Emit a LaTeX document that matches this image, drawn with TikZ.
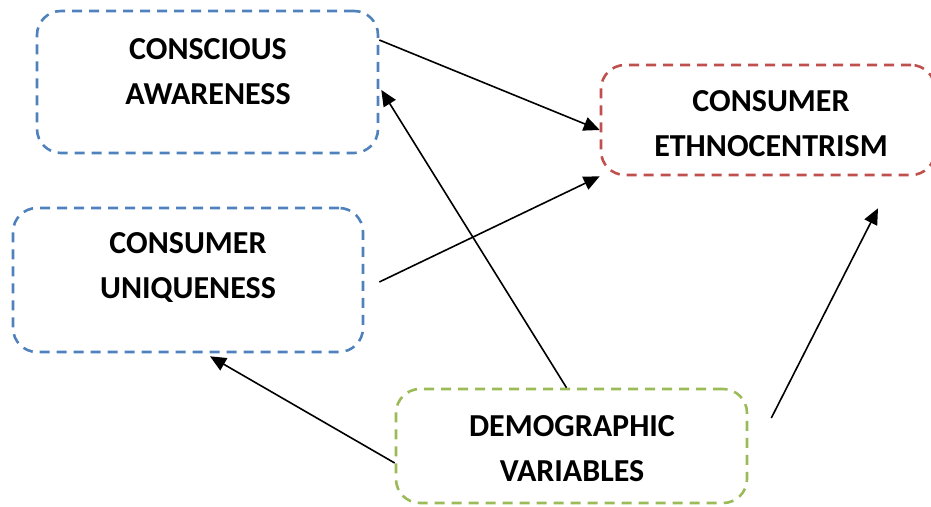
\documentclass[tikz,border=0pt]{standalone}
\usepackage{fontspec}
\setmainfont{Carlito}
\usetikzlibrary{
    positioning,      % relative placement
    arrows.meta       % arrow tips
}
\definecolor{boxblue}{RGB}{79,129,189}
\definecolor{boxred}{RGB}{192,80,77}
\definecolor{boxgreen}{RGB}{155,187,89}

\begin{document}
\begin{tikzpicture}[
        x=1pt, y=-1pt,
        box/.style={
            rectangle,
            rounded corners=24pt,
            draw=#1,
            line width=2.6pt,
            dash pattern=on 10pt off 7pt,
            inner sep=0pt
        },
        box/.default=boxblue,
        boxtext/.style={
            align=center,
            inner sep=0pt,
            font=\bfseries\fontsize{32}{45}\selectfont
        },
        arrow/.style={
            -{Triangle[length=16pt,width=14pt]},
            line width=1.6pt
        }
    ]
    \useasboundingbox (0,0) rectangle (931,506);

    % boxes
    \node[box=boxblue, minimum width=341pt, minimum height=142pt] (aware) at (207.5,82) {};
    \node[box=boxblue, minimum width=350pt, minimum height=144pt] (unique) at (188,280) {};
    \node[box=boxred, minimum width=334pt, minimum height=110pt] (ethno) at (768,120) {};
    \node[box=boxgreen, minimum width=351pt, minimum height=114pt] (demo) at (571.5,446) {};

    % labels
    \node[boxtext] (awaretext) at (208,71.5) {CONSCIOUS\\AWARENESS};
    \node[boxtext] (uniquetext) at (188,267.5) {CONSUMER\\UNIQUENESS};
    \node[boxtext] (ethnotext) at (771,124) {CONSUMER\\ETHNOCENTRISM};
    \node[boxtext] (demotext) at (572,448.5) {DEMOGRAPHIC\\VARIABLES};

    % arrows
    \draw[arrow] ([yshift=42pt]aware.east) -- ([yshift=-10pt]ethno.west);
    \draw[arrow] ([xshift=15pt,yshift=-2pt]unique.east) -- (ethno.south west);
    \draw[arrow] ([xshift=-5pt]demo.north) -- ([xshift=2pt,yshift=-8pt]aware.east);
    \draw[arrow] ([yshift=-17pt]demo.west) -- ([xshift=22pt,yshift=-3pt]unique.south);
    \draw[arrow] ([xshift=23pt,yshift=28pt]demo.east) -- ([xshift=110pt,yshift=-32pt]ethno.south);
\end{tikzpicture}
\end{document}
